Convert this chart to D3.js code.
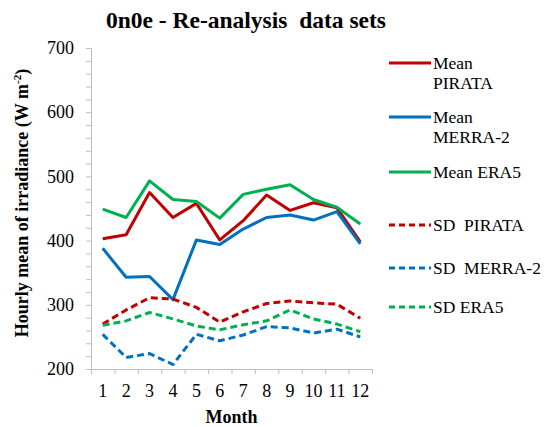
<!DOCTYPE html>
<html>
<head>
<meta charset="utf-8">
<script src="https://cdn.jsdelivr.net/npm/d3@7"></script>
<style>
  body { margin: 0; background: #fff; }
  svg text { font-family: "Liberation Serif", "Times New Roman", serif; fill: #000; }
</style>
</head>
<body>
<svg id="chart" width="544" height="427"></svg>
<script>
// data
const months = [1, 2, 3, 4, 5, 6, 7, 8, 9, 10, 11, 12];
const meanPirata = [403, 409, 475, 436, 458, 401, 431, 471, 447, 459, 451, 398];
const meanMerra = [388, 343, 344, 308, 401, 394, 418, 436, 440, 432, 445, 395];
const meanEra5 = [449, 436, 493, 464, 461, 435, 472, 480, 487, 464, 452, 426];
const sdPirata = [270, 292, 311, 309, 296, 273, 289, 302, 306, 303, 301, 279];
const sdMerra = [254, 218, 224, 207, 254, 244, 253, 266, 264, 256, 262, 250];
const sdEra5 = [268, 275, 288, 278, 267, 261, 269, 275, 292, 278, 270, 258];
const yTicks = [200, 300, 400, 500, 600, 700];

const series = [
  { name: ["Mean", "PIRATA"], values: meanPirata, color: "#C00000", dash: null, ly: 63 },
  { name: ["Mean", "MERRA-2"], values: meanMerra, color: "#0070C0", dash: null, ly: 117 },
  { name: ["Mean ERA5"], values: meanEra5, color: "#00B050", dash: null, ly: 172 },
  { name: ["SD\u00a0 PIRATA"], values: sdPirata, color: "#C00000", dash: "7,4", ly: 225 },
  { name: ["SD\u00a0 MERRA-2"], values: sdMerra, color: "#0070C0", dash: "7,4", ly: 268 },
  { name: ["SD ERA5"], values: sdEra5, color: "#00B050", dash: "7,4", ly: 307 }
];

const serif = "Liberation Serif";
const svg = d3.select("#chart");
const margin = { top: 48, left: 91, right: 172, bottom: 58 };
const width = 544 - margin.left - margin.right;
const height = 427 - margin.top - margin.bottom;

const x = d3.scaleBand().domain(months).range([margin.left, margin.left + width]);
const xEdge = d3.scaleLinear().domain([0.5, 12.5]).range([margin.left, margin.left + width]);
const y = d3.scaleLinear().domain([200, 700]).range([margin.top + height, margin.top]);

// title
svg.append("text")
  .attr("x", 246).attr("y", 28)
  .attr("text-anchor", "middle")
  .style("font-family", serif)
  .style("font-size", "23.5px").style("font-weight", "bold")
  .text("0n0e - Re-analysis\u00a0 data sets");

// y axis
const yAxis = svg.append("g")
  .attr("transform", `translate(${margin.left},0)`)
  .call(d3.axisLeft(y).tickValues(d3.range(200, 701, 20)).tickSize(5).tickPadding(12)
    .tickFormat(d => yTicks.includes(d) ? d : ""));
yAxis.select(".domain").attr("stroke", "#bfbfbf");
yAxis.selectAll(".tick line").attr("stroke", "#bfbfbf");
yAxis.selectAll(".tick text").style("font-size", "18px").style("font-family", serif);

// x axis: ticks between categories, labels centred
const xTicks = svg.append("g")
  .attr("transform", `translate(0,${margin.top + height})`)
  .call(d3.axisBottom(xEdge).tickValues(d3.range(0.5, 12.6, 1)).tickSize(5).tickFormat(""));
xTicks.select(".domain").attr("stroke", "#bfbfbf");
xTicks.selectAll(".tick line").attr("stroke", "#bfbfbf");

const xAxis = svg.append("g")
  .attr("transform", `translate(0,${margin.top + height})`)
  .call(d3.axisBottom(x).tickSize(0).tickPadding(15));
xAxis.select(".domain").remove();
xAxis.selectAll(".tick text").style("font-size", "18px").style("font-family", serif);

// axis titles
svg.append("text")
  .attr("x", x(6) + x.bandwidth()).attr("y", 423)
  .attr("text-anchor", "middle")
  .style("font-family", serif)
  .style("font-size", "18px").style("font-weight", "bold")
  .text("Month");

const yt = svg.append("text")
  .attr("transform", "translate(28,203) rotate(-90)")
  .attr("text-anchor", "middle")
  .style("font-family", serif)
  .style("font-size", "18px").style("font-weight", "bold");
yt.append("tspan").text("Hourly mean of irradiance (W m");
yt.append("tspan").attr("dy", -7).style("font-size", "11px").text("-2");
yt.append("tspan").attr("dy", 7).text(")");

// lines
const line = d3.line()
  .x((d, i) => x(months[i]) + x.bandwidth() / 2)
  .y(d => y(d));

series.forEach(s => {
  svg.append("path")
    .datum(s.values)
    .attr("fill", "none")
    .attr("stroke", s.color)
    .attr("stroke-width", 3)
    .attr("stroke-linejoin", "round")
    .attr("stroke-dasharray", s.dash)
    .attr("d", line);
});

// legend
const legend = svg.append("g");
series.forEach(s => {
  legend.append("line")
    .attr("x1", 389).attr("x2", 431)
    .attr("y1", s.ly).attr("y2", s.ly)
    .attr("stroke", s.color).attr("stroke-width", 3)
    .attr("stroke-dasharray", s.dash ? "6,4" : null);
  s.name.forEach((t, i) => {
    legend.append("text")
      .attr("x", 433).attr("y", s.ly + 6 + i * 20)
      .style("font-family", serif)
      .style("font-size", "17.5px")
      .text(t);
  });
});
</script>
</body>
</html>
